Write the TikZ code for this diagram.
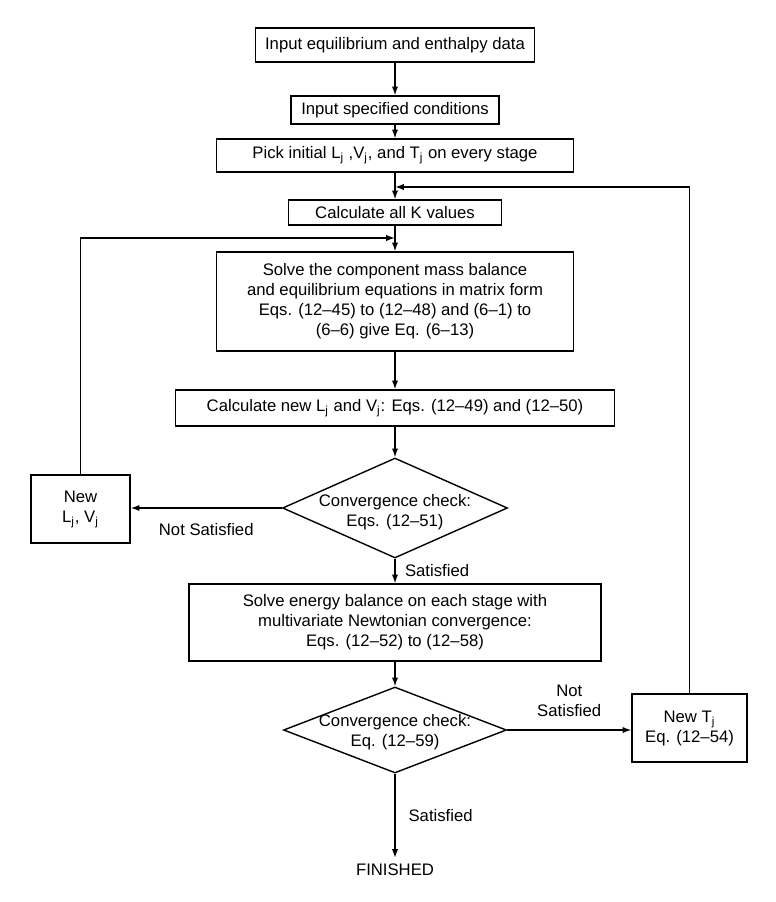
\documentclass[tikz,border=0pt]{standalone}
\usepackage{fontspec}
\setmainfont{Liberation Sans}
\usetikzlibrary{shapes.geometric,arrows.meta}

\begin{document}
\begin{tikzpicture}[x=0.02cm,y=-0.02cm,
  every node/.style={font=\fontsize{9.5}{11.4}\selectfont},
  box/.style={draw,line width=0.8pt,align=center,inner sep=2pt},
  check/.style={draw,diamond,line width=0.8pt,inner sep=0pt},
  arr/.style={line width=0.8pt,-{Latex[length=5pt,width=3.6pt]}}]
\useasboundingbox (0,0) rectangle (775,902);
% main column
\node[box,minimum width=5.58cm,minimum height=0.68cm] (input) at (395,45) {Input equilibrium and enthalpy data};
\node[box,minimum width=4.16cm,minimum height=0.56cm] (spec) at (395,110) {Input specified conditions};
\node[box,minimum width=7.14cm,minimum height=0.66cm] (pick) at (395,155.5) {Pick initial L\textsubscript{j} ,V\textsubscript{j}, and T\textsubscript{j} on every stage};
\node[box,minimum width=4.26cm,minimum height=0.5cm] (kval) at (395,212.5) {Calculate all K values};
\node[box,minimum width=7.14cm,minimum height=1.98cm] (solve) at (395,301.5) {Solve the component mass balance\\and equilibrium equations in matrix form\\Eqs. (12--45) to (12--48) and (6--1) to\\(6--6) give Eq. (6--13)};
\node[box,minimum width=8.78cm,minimum height=0.72cm] (calcnew) at (395,408) {Calculate new L\textsubscript{j} and V\textsubscript{j}: Eqs. (12--49) and (12--50)};
\node[check,minimum width=4.5cm,minimum height=2cm] (conv1) at (395,508) {};
\node[align=center] (conv1txt) at (395,512) {Convergence check:\\Eqs. (12--51)};
\node[box,minimum width=8.24cm,minimum height=1.54cm] (energy) at (395,622.5) {Solve energy balance on each stage with\\multivariate Newtonian convergence:\\Eqs. (12--52) to (12--58)};
\node[check,minimum width=4.46cm,minimum height=1.72cm] (conv2) at (395,730) {};
\node[align=center] (conv2txt) at (395,732) {Convergence check:\\Eq. (12--59)};
\node (done) at (395,870) {FINISHED};
% side boxes
\node[box,minimum width=1.98cm,minimum height=1.36cm] (newLV) at (80.5,509) {New\\L\textsubscript{j}, V\textsubscript{j}};
\node[box,minimum width=2.3cm,minimum height=1.36cm] (newT) at (689.5,728) {New T\textsubscript{j}\\Eq. (12--54)};
\coordinate (j1) at (395,238);
\coordinate (j2) at (395,187);
% connectors
\draw[arr] (input) -- (spec);
\draw[arr] (spec) -- (pick);
\draw[arr] (pick) -- (kval);
\draw[arr] (kval) -- (solve);
\draw[arr] (solve) -- (calcnew);
\draw[arr] (calcnew) -- (conv1);
\draw[arr] (conv1) -- node[right=2pt] {Satisfied} (energy);
\draw[arr] (conv1.west) -- node[below=5pt] {Not Satisfied} (conv1.west -| newLV.east);
\draw[arr] (newLV.north) |- (j1);
\draw[arr] (energy) -- (conv2);
\draw[arr] (conv2.east) -- node[above=4pt,align=center] {Not\\Satisfied} (conv2.east -| newT.west);
\draw[arr] (newT.north) |- (j2);
\draw[arr] (conv2.south) -- node[right=4pt] {Satisfied} (done.north);
\end{tikzpicture}
\end{document}
